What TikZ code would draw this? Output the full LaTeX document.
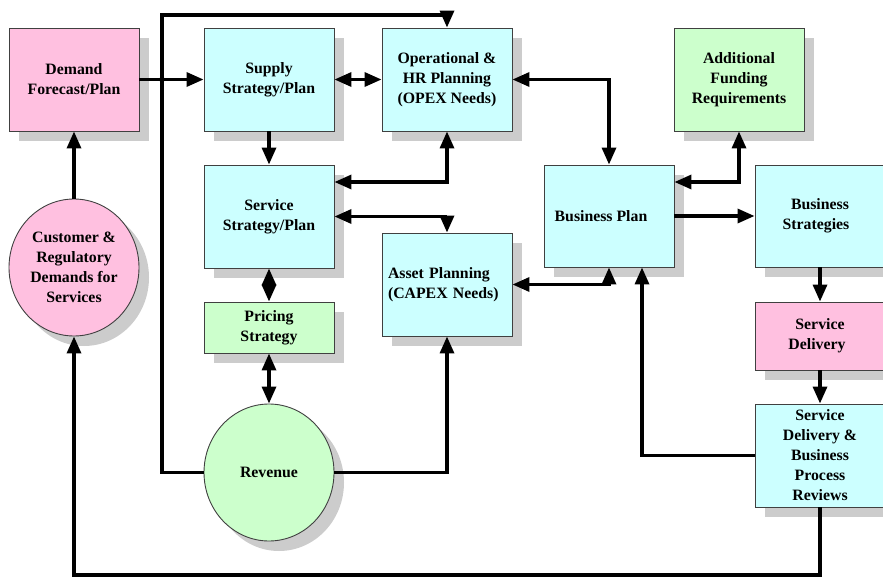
\documentclass[tikz,border=0pt]{standalone}
\usepackage{fontspec}
\setmainfont{Liberation Serif}
\usetikzlibrary{arrows.meta,shapes.geometric,shadows}

\definecolor{boxpink}{HTML}{FFC0E0}
\definecolor{boxcyan}{HTML}{CCFFFF}
\definecolor{boxgreen}{HTML}{CCFFCC}
\definecolor{shadowgray}{HTML}{CCCCCC}

\tikzset{
  block/.style={draw=black!75, line width=0.9pt, inner sep=0pt, align=center,
    font=\fontsize{15.8}{20}\selectfont\bfseries,
    drop shadow={shadow xshift=10pt, shadow yshift=-10pt, fill=shadowgray, opacity=1}},
  stdbox/.style={block, rectangle, minimum width=130pt, minimum height=103pt},
  oval/.style={block, ellipse, minimum width=130pt, minimum height=137pt},
  flow/.style={line width=3.3pt, -{Triangle[length=17pt,width=14pt]}},
  twoway/.style={line width=3.3pt, {Triangle[length=17pt,width=14pt]}-{Triangle[length=17pt,width=14pt]}},
}

\begin{document}
\begin{tikzpicture}[x=1pt, y=-1pt]
\useasboundingbox (0,0) rectangle (883,577);
\clip (0,0) rectangle (883,577);

% blocks
\node[stdbox, fill=boxpink] (dem) at (74,79.5) {Demand\\Forecast/Plan};
\node[stdbox, fill=boxcyan] (sup) at (269,79.5) {Supply\\Strategy/Plan};
\node[stdbox, fill=boxcyan] (ops) at (447,79.5) {Operational \&\\HR Planning\\(OPEX Needs)};
\node[stdbox, fill=boxgreen] (fund) at (739,79.5) {Additional\\Funding\\Requirements};
\node[stdbox, fill=boxcyan] (svc) at (269,216.5) {Service\\Strategy/Plan};
\node[stdbox, fill=boxcyan, minimum height=102pt] (bp) at (609,216) {Business Plan\hspace*{16pt}};
\node[stdbox, fill=boxcyan, minimum height=102pt] (bs) at (820,216) {Business\\Strategies\hspace*{8pt}};
\node[stdbox, fill=boxcyan, text width=118pt, align=left] (asset) at (447,284.5) {Asset Planning\\(CAPEX Needs)};
\node[stdbox, fill=boxgreen, minimum height=51pt] (price) at (269,327.5) {Pricing\\Strategy};
\node[stdbox, fill=boxpink, minimum height=68pt] (sd) at (820,336) {Service\\Delivery\hspace*{6pt}};
\node[stdbox, fill=boxcyan] (sdr) at (820,455.5) {Service\\Delivery \&\\Business\\Process\\Reviews};
\node[oval, fill=boxpink] (cust) at (74,267.5) {Customer \&\\Regulatory\\Demands for\\Services};
\node[oval, fill=boxgreen] (rev) at (269,472.5) {Revenue};

% connectors
\draw[flow] (dem.east) -- (sup.west);
\draw[flow] (rev.west) -| (162,15) -| (ops.north);
\fill (162,79.5) circle (2.8pt);
\draw[twoway] (sup.east) -- (ops.west);
\draw[flow] (sup.south) -- (svc.north);
\draw[twoway] (ops.south) |- (svc.east |- 0,182);
\draw[twoway] (ops.east) -| (bp.north);
\draw[twoway] (svc.east) -| (asset.north);
\draw[twoway] (svc.south) -- (price.north);
\draw[twoway] (price.south) -- (rev.north);
\draw[flow] (rev.east) -| (asset.south);
\draw[twoway] (asset.east) -| (bp.south);
\draw[twoway] (bp.east |- 0,182) -| (fund.south);
\draw[flow] (bp.east) -- (bs.west);
\draw[flow] (bs.south) -- (sd.north);
\draw[flow] (sd.south) -- (sdr.north);
\draw[flow] (sdr.west) -| ([xshift=33pt]bp.south);
\draw[flow] (sdr.south) |- (cust.south |- 0,575) -- (cust.south);
\draw[flow] (cust.north) -- (dem.south);
\end{tikzpicture}
\end{document}
